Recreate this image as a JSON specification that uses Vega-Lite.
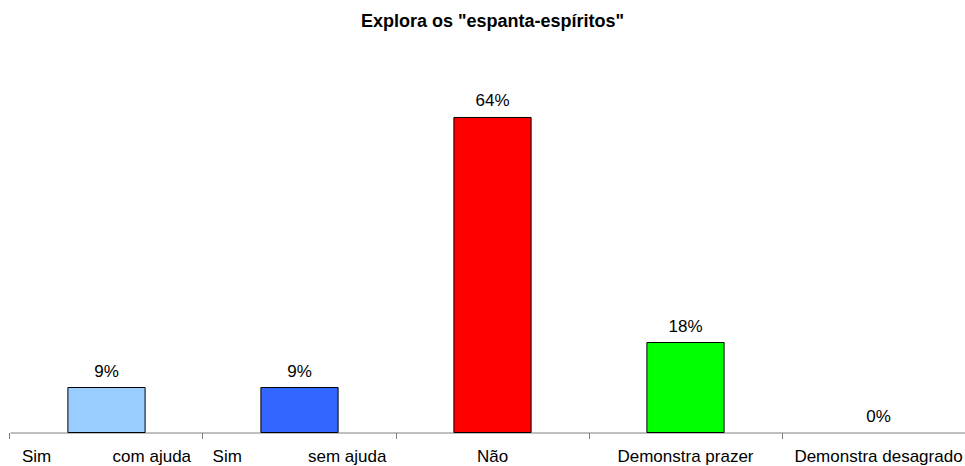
{
  "$schema": "https://vega.github.io/schema/vega-lite/v6.json",
  "autosize": {"type": "none"},
  "width": 965,
  "height": 346.5,
  "padding": {"left": 10, "top": 86, "right": 0, "bottom": 34},
  "background": "white",
  "title": {
    "text": "Explora os \"espanta-espíritos\"",
    "font": "Liberation Sans",
    "fontSize": 18,
    "fontWeight": "bold",
    "color": "black",
    "anchor": "middle",
    "offset": 55
  },
  "data": {
    "values": [
      {"cat": "Sim\u00a0\u00a0\u00a0\u00a0\u00a0\u00a0\u00a0\u00a0\u00a0\u00a0\u00a0\u00a0\u00a0com ajuda", "value": 0.0909, "label": "9%", "color": "#99CCFF"},
      {"cat": "Sim\u00a0\u00a0\u00a0\u00a0\u00a0\u00a0\u00a0\u00a0\u00a0\u00a0\u00a0\u00a0\u00a0\u00a0sem ajuda", "value": 0.0909, "label": "9%", "color": "#3366FF"},
      {"cat": "Não", "value": 0.6364, "label": "64%", "color": "#FF0000"},
      {"cat": "Demonstra prazer", "value": 0.1818, "label": "18%", "color": "#00FF00"},
      {"cat": "Demonstra desagrado", "value": 0, "label": "0%", "color": "#FFFF00"}
    ]
  },
  "encoding": {
    "x": {
      "field": "cat",
      "type": "nominal",
      "sort": null,
      "scale": {"paddingInner": 0.6, "paddingOuter": 0.3},
      "axis": {
        "title": null,
        "bandPosition": -0.75,
        "domainColor": "#808080",
        "tickColor": "#808080",
        "tickSize": 6,
        "labelPadding": 10,
        "labelAngle": 0,
        "labelFont": "Liberation Sans",
        "labelFontSize": 17,
        "labelColor": "black",
        "labelLimit": 0,
        "grid": false
      }
    },
    "y": {
      "field": "value",
      "type": "quantitative",
      "scale": {"domain": [0, 0.7], "nice": false},
      "axis": null
    }
  },
  "layer": [
    {
      "mark": {"type": "bar", "stroke": "black", "strokeWidth": 1},
      "encoding": {
        "fill": {"field": "color", "type": "nominal", "scale": null},
        "strokeOpacity": {"condition": {"test": "datum.value == 0", "value": 0}, "value": 1},
        "fillOpacity": {"condition": {"test": "datum.value == 0", "value": 0}, "value": 1}
      }
    },
    {
      "mark": {"type": "text", "font": "Liberation Sans", "fontSize": 17, "color": "black", "baseline": "middle", "dy": -16},
      "encoding": {
        "text": {"field": "label"}
      }
    }
  ],
  "config": {"view": {"stroke": null}}
}
